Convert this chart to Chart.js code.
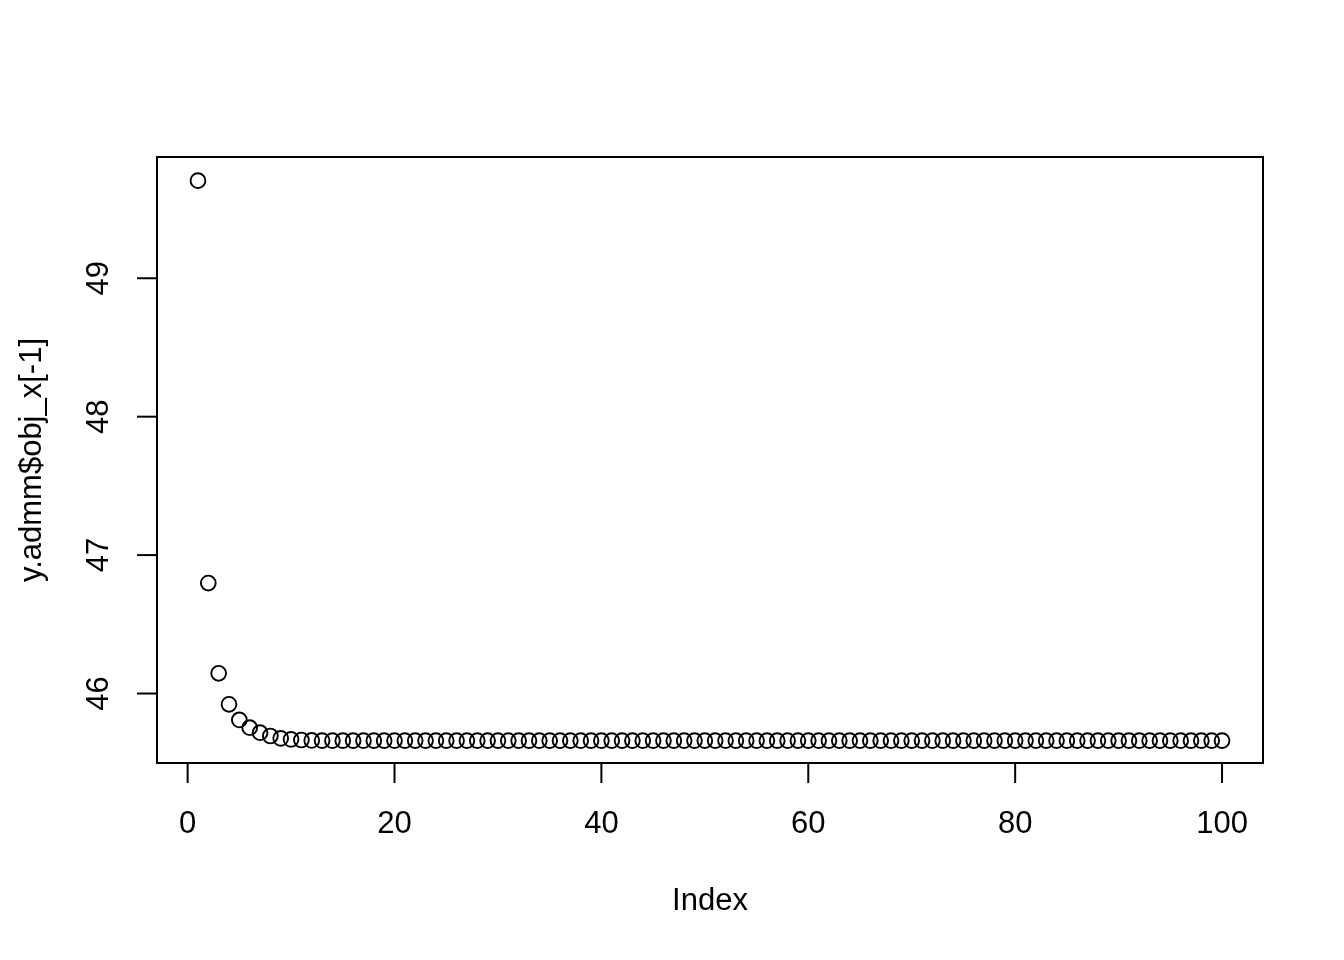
<!DOCTYPE html>
<html lang="en">
<head>
  <meta charset="UTF-8" />
  <title>y.admm$obj_x[-1] by Index</title>
  <script src="https://cdn.jsdelivr.net/npm/chart.js"></script>
  <style>
    html, body { margin: 0; padding: 0; background: #fff; }
    #plot { display: block; }
  </style>
</head>
<body>
  <canvas id="plot" width="1344" height="960"></canvas>

  <script>
    // values (first few drop fast, then flat)
    const objValues = [
      49.705, 46.798, 46.146, 45.922, 45.809, 45.753, 45.717, 45.693, 45.676, 45.669,
      45.664, 45.661, 45.660, 45.660, 45.660, 45.660, 45.660, 45.660, 45.660, 45.660,
      45.660, 45.660, 45.660, 45.660, 45.660, 45.660, 45.660, 45.660, 45.660, 45.660,
      45.660, 45.660, 45.660, 45.660, 45.660, 45.660, 45.660, 45.660, 45.660, 45.660,
      45.660, 45.660, 45.660, 45.660, 45.660, 45.660, 45.660, 45.660, 45.660, 45.660,
      45.660, 45.660, 45.660, 45.660, 45.660, 45.660, 45.660, 45.660, 45.660, 45.660,
      45.660, 45.660, 45.660, 45.660, 45.660, 45.660, 45.660, 45.660, 45.660, 45.660,
      45.660, 45.660, 45.660, 45.660, 45.660, 45.660, 45.660, 45.660, 45.660, 45.660,
      45.660, 45.660, 45.660, 45.660, 45.660, 45.660, 45.660, 45.660, 45.660, 45.660,
      45.660, 45.660, 45.660, 45.660, 45.660, 45.660, 45.660, 45.660, 45.660, 45.660
    ];
    const indexValues = objValues.map((v, i) => i + 1);
    const xTicks = [0, 20, 40, 60, 80, 100];
    const yTicks = [46, 47, 48, 49];
    const xTitle = 'Index';
    const yTitle = 'y.admm$obj_x[-1]';

    const FONT = '31px "Liberation Sans", Arial, sans-serif';

    // R-style box, ticks and labels drawn from the chart's scales
    const rAxes = {
      id: 'rAxes',
      afterDraw(chart) {
        const { ctx, chartArea: a, scales: { x, y } } = chart;
        ctx.save();
        ctx.strokeStyle = '#000';
        ctx.fillStyle = '#000';
        ctx.lineWidth = 2;
        ctx.strokeRect(a.left, a.top, a.right - a.left, a.bottom - a.top);

        ctx.font = FONT;
        ctx.textAlign = 'center';
        ctx.textBaseline = 'middle';

        // x axis
        xTicks.forEach(t => {
          const px = x.getPixelForValue(t);
          ctx.beginPath();
          ctx.moveTo(px, a.bottom);
          ctx.lineTo(px, a.bottom + 20);
          ctx.stroke();
          ctx.fillText(String(t), px, a.bottom + 61);
        });
        ctx.fillText(xTitle, (a.left + a.right) / 2, a.bottom + 138);

        // y axis, labels turned like R's las=0
        yTicks.forEach(t => {
          const py = y.getPixelForValue(t);
          ctx.beginPath();
          ctx.moveTo(a.left, py);
          ctx.lineTo(a.left - 20, py);
          ctx.stroke();
          ctx.save();
          ctx.translate(a.left - 58, py);
          ctx.rotate(-Math.PI / 2);
          ctx.fillText(String(t), 0, 0);
          ctx.restore();
        });
        ctx.save();
        ctx.translate(a.left - 125, (a.top + a.bottom) / 2);
        ctx.rotate(-Math.PI / 2);
        ctx.fillText(yTitle, 0, 0);
        ctx.restore();

        ctx.restore();
      }
    };

    new Chart(document.getElementById('plot').getContext('2d'), {
      type: 'scatter',
      data: {
        datasets: [{
          data: indexValues.map((ix, i) => ({ x: ix, y: objValues[i] })),
          pointStyle: 'circle',
          pointRadius: 7.4,
          pointBorderWidth: 1.9,
          pointBorderColor: '#000',
          pointBackgroundColor: 'rgba(0,0,0,0)'
        }]
      },
      options: {
        responsive: false,
        animation: false,
        devicePixelRatio: 1,
        layout: { padding: { left: 157, right: 81, top: 157, bottom: 197 } },
        plugins: { legend: { display: false }, tooltip: { enabled: false } },
        scales: {
          x: { type: 'linear', min: -2.96, max: 103.96, display: false },
          y: { type: 'linear', min: 45.498, max: 49.876, display: false }
        }
      },
      plugins: [rAxes]
    });
  </script>
</body>
</html>
